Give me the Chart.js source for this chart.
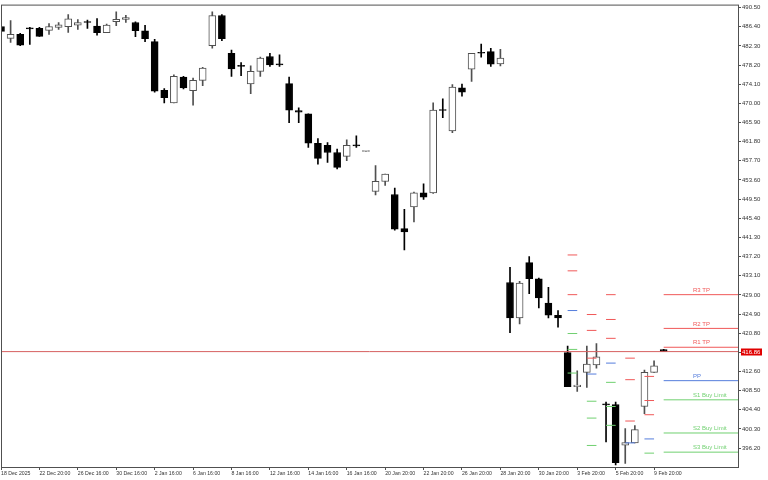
<!DOCTYPE html>
<html><head><meta charset="utf-8">
<script src="https://cdn.jsdelivr.net/npm/chart.js@4/dist/chart.umd.min.js"></script>
<style>html,body{margin:0;padding:0;background:#fff;overflow:hidden}canvas{display:block}</style>
</head><body>
<canvas id="c" width="768" height="480"></canvas>
<script>
// ---- data (H12 candles, bar index 0..69) ----
const opens  = [486.46,483.92,484.77,486.04,486.04,485.61,486.25,486.40,486.74,487.35,
                486.53,485.13,487.46,487.95,487.31,485.55,483.21,472.81,470.11,475.63,
                472.72,474.93,482.36,488.80,480.73,477.95,474.14,476.84,480.03,478.26,
                474.21,468.47,467.77,461.46,461.04,459.49,458.64,460.95,459.70,451.14,
                453.27,450.50,443.20,447.81,450.84,450.84,468.50,464.10,473.30,477.33,
                480.75,481.09,478.46,431.66,424.08,435.91,432.45,427.27,424.65,416.65,
                409.36,412.40,414.03,405.54,405.54,396.83,397.32,405.11,412.40,417.28];
const highs  = [486.60,487.74,484.98,486.25,486.25,487.10,487.31,489.01,487.95,487.80,
                488.16,486.95,489.59,488.86,487.46,486.68,483.70,473.15,476.12,475.78,
                475.42,477.69,489.59,489.01,481.43,478.75,478.03,479.90,480.73,480.37,
                475.63,469.05,467.77,462.46,461.61,460.19,462.19,463.04,459.72,456.66,
                454.88,451.84,447.32,450.99,452.76,470.11,470.96,474.00,474.14,480.73,
                482.70,481.79,481.58,434.91,431.88,437.19,432.58,430.60,425.65,418.07,
                412.76,418.07,418.56,406.03,406.03,400.38,401.00,412.91,414.88,417.35];
const lows   = [485.20,483.07,482.36,482.64,484.34,484.77,485.83,485.19,485.83,486.04,
                484.62,485.13,486.61,487.31,484.28,483.21,472.38,470.11,470.11,473.08,
                469.62,473.78,481.79,483.43,475.78,475.91,472.08,475.78,477.90,477.90,
                465.86,465.86,460.55,457.00,457.36,455.94,457.73,460.55,459.70,450.42,
                452.42,442.86,438.61,444.62,449.44,450.70,466.92,463.74,471.53,474.72,
                479.88,477.90,478.03,420.90,422.81,429.26,426.21,424.08,422.11,409.36,
                408.36,409.21,413.33,397.53,392.60,392.94,397.32,403.56,412.40,416.86];
const closes = [485.40,484.77,482.43,485.95,484.34,486.46,486.83,488.10,487.31,487.31,
                485.13,486.74,488.01,488.38,485.55,483.85,472.59,471.24,475.78,473.30,
                474.93,477.54,488.80,483.85,477.39,477.90,476.84,479.67,478.24,478.24,
                468.56,468.13,461.46,458.21,459.49,456.30,461.04,460.91,459.72,453.33,
                454.88,443.07,442.50,450.84,449.93,468.56,468.47,473.51,472.38,480.73,
                480.73,478.39,479.67,424.08,431.52,432.45,428.33,424.65,424.08,409.36,
                409.72,414.18,415.73,405.45,393.07,397.40,400.17,412.40,413.82,416.86];

const xTickBars   = [0,4,8,12,16,20,24,28,32,36,40,44,48,52,56,60,64,68];
const xTickLabels = ['18 Dec 2025','22 Dec 20:00','26 Dec 16:00','30 Dec 16:00','2 Jan 16:00',
                     '6 Jan 16:00','8 Jan 16:00','12 Jan 16:00','14 Jan 16:00','16 Jan 16:00',
                     '20 Jan 20:00','22 Jan 20:00','26 Jan 20:00','28 Jan 20:00','30 Jan 20:00',
                     '3 Feb 20:00','5 Feb 20:00','9 Feb 20:00'];
const yTickValues = [490.50,486.40,482.30,478.20,474.10,470.00,465.90,461.80,457.70,453.60,
                     449.50,445.40,441.30,437.20,433.10,429.00,424.90,420.80,416.70,412.60,
                     408.50,404.40,400.30,396.20];
const currentPrice = 416.86;

// daily pivot levels, one value per pivot day (bar where the day starts)
const pivotStartBars = [59, 61, 63, 65, 67, 69];
const levelNames = ['R3 TP','R2 TP','R1 TP','PP','S1 Buy Limit','S2 Buy Limit','S3 Buy Limit'];
const r3 = [437.55, 424.80, 429.05, 415.46, 411.55, 429.05];
const r2 = [434.15, 421.40, 423.74, 410.85, 406.39, 421.83];
const r1 = [429.05, 415.46, 419.70, 402.00, 403.35, 417.79];
const pp = [425.65, 412.06, 414.40, 397.32, 398.17, 410.64];
const s1 = [420.73, 406.24, 410.28, null,   395.13, 406.54];
const s2 = [417.33, 402.63, 405.11, null,   null,   399.44];
const s3 = [412.27, 396.77, 401.08, null,   null,   395.34];

// ---- styling ----
const FONT = '"Liberation Sans", Arial, sans-serif';
const X_MAX = 76.74;
const RED = 'rgb(240,88,88)', BLUE = 'rgb(85,125,220)', GREEN = 'rgb(112,208,112)';
const levelSets = [r3, r2, r1, pp, s1, s2, s3];
const levelColors = [RED, RED, RED, BLUE, GREEN, GREEN, GREEN];
const LABEL_BAR = 72.05;

const bull = closes.map((c, i) => c >= opens[i]);
const bodyData = opens.map((o, i) => ({x: i, y: [o, closes[i]]}));
const wickData = lows.map((l, i) => ({x: i, y: [l, highs[i]]}));

function levelData(vals) {
  const out = [];
  vals.forEach((v, g) => {
    if (v == null) return;
    const s = pivotStartBars[g];
    const e = g === pivotStartBars.length - 1 ? X_MAX : pivotStartBars[g + 1] - 1;
    out.push({x: s, y: v}, {x: e, y: v}, {x: e + 0.01, y: null});
  });
  return out;
}

const datasets = [];
levelSets.forEach((vals, k) => {
  datasets.push({type: 'line', data: levelData(vals), borderColor: levelColors[k],
    borderWidth: 1, pointRadius: 0, spanGaps: false, order: 0, tension: 0});
});
datasets.push({type: 'line', data: [{x: 0, y: currentPrice}, {x: X_MAX, y: currentPrice}],
  borderColor: 'rgb(214,96,96)', borderWidth: 1, pointRadius: 0, order: 0});
datasets.push({type: 'bar', data: bodyData, grouped: false, barThickness: 7,
  backgroundColor: bull.map(b => b ? '#ffffff' : '#000000'),
  borderColor: bull.map(b => b ? '#505050' : '#000000'),
  borderWidth: 1, borderSkipped: false, minBarLength: 1, order: 1});
datasets.push({type: 'bar', data: wickData, grouped: false, barThickness: 1,
  backgroundColor: bull.map(b => b ? '#505050' : '#000000'),
  borderWidth: 0, order: 2});

const overlay = {
  id: 'overlay',
  afterDatasetsDraw(chart) {
    const {ctx, chartArea: a, scales: {x, y}} = chart;
    ctx.save();
    ctx.font = '6px ' + FONT;
    ctx.textAlign = 'left';
    ctx.textBaseline = 'bottom';
    const lx = x.getPixelForValue(LABEL_BAR);
    const last = pivotStartBars.length - 1;
    levelSets.forEach((vals, k) => {
      const v = vals[last];
      if (v == null) return;
      ctx.fillStyle = levelColors[k];
      ctx.fillText(levelNames[k], lx, y.getPixelForValue(v) - 1.5);
    });
    ctx.restore();
  },
  afterDraw(chart) {
    const {ctx, chartArea: a, scales: {y}} = chart;
    ctx.save();
    ctx.strokeStyle = '#505050';
    ctx.lineWidth = 1;
    ctx.strokeRect(a.left + 0.5, a.top + 0.5, a.right - a.left, a.bottom - a.top);
    const py = y.getPixelForValue(currentPrice);
    ctx.fillStyle = '#e00000';
    ctx.fillRect(a.right + 3, Math.round(py) - 3.5, 21, 7);
    ctx.fillStyle = '#ffffff';
    ctx.font = '6px ' + FONT;
    ctx.textAlign = 'left';
    ctx.textBaseline = 'middle';
    ctx.fillText(currentPrice.toFixed(2), a.right + 4, py + 0.5);
    ctx.restore();
  }
};

new Chart(document.getElementById('c'), {
  type: 'bar',
  data: {datasets},
  options: {
    responsive: false, animation: false, devicePixelRatio: 1,
    layout: {padding: {left: 1, top: 1, right: 0, bottom: 0}},
    plugins: {legend: {display: false}, tooltip: {enabled: false}},
    scales: {
      x: {
        type: 'linear', min: 0, max: X_MAX, offset: false,
        afterBuildTicks: s => { s.ticks = xTickBars.map(v => ({value: v})); },
        afterFit: s => { s.height = 13; },
        border: {display: false},
        grid: {display: true, drawOnChartArea: false, drawTicks: true, tickLength: 3, color: '#505050', offset: false},
        ticks: {
          autoSkip: false, maxRotation: 0, minRotation: 0, align: 'start', padding: 0,
          color: '#333', font: {size: 5.2, family: FONT},
          callback: v => { const k = xTickBars.indexOf(v); return k >= 0 ? xTickLabels[k] : ''; }
        }
      },
      y: {
        type: 'linear', position: 'right', min: 392.16, max: 491.14,
        afterBuildTicks: s => { s.ticks = yTickValues.map(v => ({value: v})); },
        afterFit: s => { s.width = 30; },
        border: {display: false},
        grid: {display: true, drawOnChartArea: false, drawTicks: true, tickLength: 3, color: '#505050'},
        ticks: {color: '#333', padding: 1, font: {size: 6, family: FONT},
          callback: v => Number(v).toFixed(2)}
      }
    }
  },
  plugins: [overlay]
});
</script>
</body></html>
